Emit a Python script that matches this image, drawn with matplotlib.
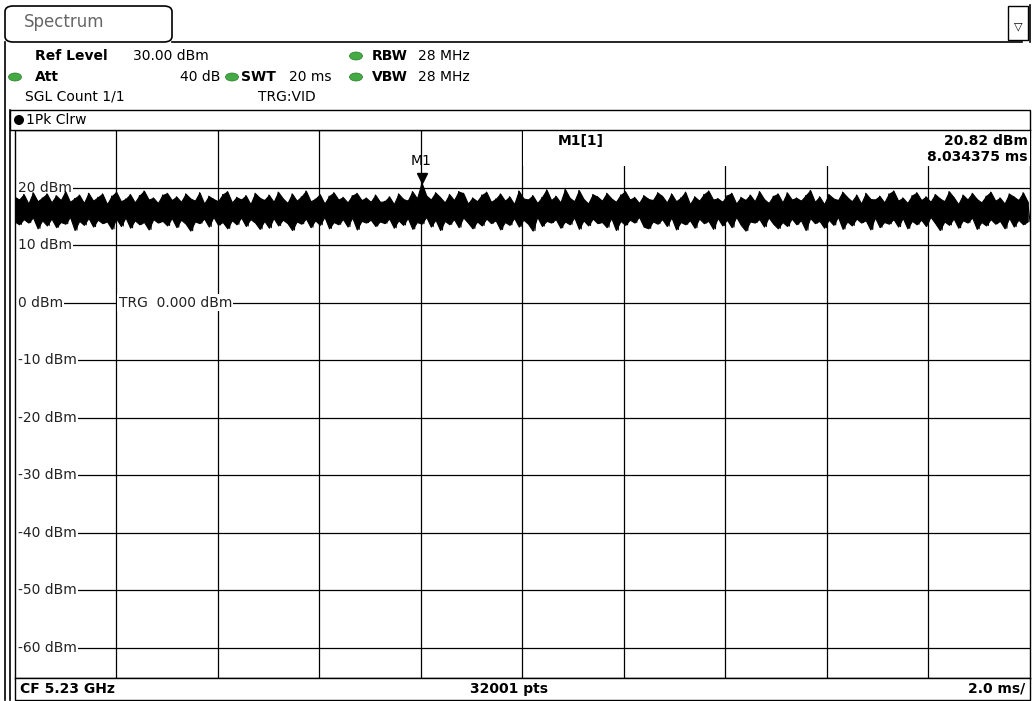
import matplotlib.pyplot as plt
from matplotlib.patches import Rectangle, FancyBboxPatch, Ellipse

W, H = 1032, 701

# sweep 0..20 ms, trace values (dBm), peaks and dips alternate
trace = [
    18.4, 14.1, 17.9, 13.6, 18.8, 14.5, 17.2, 13.9, 19.1, 14.8, 17.6, 12.9, 18.2, 14.3, 18.9, 13.4, 17.4, 14.6, 18.6, 13.1,
    17.8, 14.0, 19.3, 13.7, 17.5, 14.9, 18.1, 12.6, 18.7, 14.2, 17.3, 13.5, 19.0, 14.7, 17.7, 13.2, 18.3, 14.4, 18.9, 13.8,
    17.1, 14.1, 18.5, 12.8, 19.2, 14.6, 17.6, 13.3, 18.0, 14.8, 18.8, 13.0, 17.4, 14.3, 18.6, 13.6, 19.4, 14.0, 17.9, 12.7,
    18.2, 14.5, 17.3, 13.9, 18.7, 14.2, 19.0, 13.4, 17.8, 14.7, 18.4, 13.1, 17.5, 14.4, 18.9, 13.7, 18.1, 12.5, 17.7, 14.1,
    19.1, 13.8, 17.2, 14.6, 18.5, 13.2, 18.0, 14.9, 17.6, 13.5, 18.8, 14.0, 19.3, 12.9, 17.4, 14.3, 18.3, 13.6, 17.9, 14.8,
    18.6, 13.3, 17.1, 14.5, 19.0, 13.9, 18.2, 12.8, 17.8, 14.2, 18.7, 13.0, 17.5, 14.7, 19.2, 13.4, 18.1, 14.4, 17.3, 13.8,
    18.9, 12.6, 17.7, 14.1, 18.4, 13.7, 19.4, 14.6, 17.6, 13.1, 18.0, 14.3, 18.8, 13.5, 17.2, 14.9, 18.5, 12.9, 19.1, 14.0,
    17.9, 13.6, 18.3, 14.5, 17.4, 13.2, 18.6, 14.8, 19.0, 12.7, 17.8, 14.2, 18.2, 13.9, 17.5, 14.4, 18.7, 13.3, 17.5, 14.1,
    17.6, 13.8, 18.4, 14.6, 17.1, 13.0, 18.9, 14.3, 18.0, 13.5, 17.7, 14.7, 19.3, 12.8, 18.1, 14.0, 20.82, 13.7, 18.6, 14.9,
    17.9, 13.2, 19.1, 14.4, 18.3, 12.6, 17.4, 14.2, 18.8, 13.6, 17.8, 14.5, 19.3, 13.1, 19.0, 14.8, 17.2, 13.9, 18.2, 12.9,
    17.6, 14.1, 18.7, 13.4, 19.2, 14.6, 17.5, 13.8, 18.0, 14.3, 18.9, 12.7, 17.7, 14.0, 18.4, 13.5, 17.1, 14.7, 19.4, 13.2,
    18.1, 14.4, 17.9, 13.7, 18.6, 12.5, 17.3, 14.9, 18.3, 13.3, 19.6, 14.2, 17.8, 13.9, 18.5, 14.5, 17.4, 13.0, 19.7, 14.1,
    18.2, 13.6, 17.6, 14.8, 19.5, 12.8, 18.0, 14.3, 17.2, 13.4, 18.8, 14.6, 18.4, 13.8, 17.7, 14.0, 19.0, 13.1, 18.1, 14.7,
    17.5, 12.6, 18.7, 14.2, 19.3, 13.5, 17.9, 14.4, 18.3, 13.9, 17.3, 14.9, 18.6, 13.2, 18.0, 12.9, 17.8, 14.1, 19.1, 13.7,
    18.5, 14.5, 17.4, 13.3, 18.9, 14.8, 17.6, 12.7, 18.2, 14.0, 19.2, 13.6, 17.1, 14.3, 18.4, 13.0, 17.7, 14.6, 18.8, 13.8,
    19.4, 14.2, 17.9, 12.8, 18.1, 14.7, 17.5, 13.4, 18.6, 14.4, 19.0, 13.1, 17.2, 14.9, 18.3, 13.5, 17.8, 12.5, 18.7, 14.1,
    17.6, 13.9, 19.3, 14.5, 18.0, 13.2, 17.3, 14.8, 18.5, 13.7, 18.9, 12.9, 17.4, 14.0, 19.1, 13.3, 17.9, 14.6, 18.2, 13.6,
    17.7, 14.3, 18.6, 12.6, 19.5, 14.7, 17.5, 13.8, 18.4, 14.2, 17.1, 13.0, 18.8, 14.4, 18.1, 13.5, 17.8, 14.9, 19.2, 12.8,
    18.3, 14.1, 17.6, 13.4, 18.7, 14.6, 17.2, 13.9, 19.0, 14.3, 18.0, 12.7, 17.9, 14.8, 18.5, 13.1, 17.4, 14.0, 18.9, 13.7,
    19.4, 14.5, 17.7, 13.2, 18.2, 14.7, 17.3, 12.9, 18.6, 14.2, 19.1, 13.6, 17.8, 14.4, 18.4, 13.3, 17.5, 14.9, 18.8, 13.8,
    18.1, 12.6, 17.6, 14.1, 19.3, 13.5, 18.3, 14.6, 17.1, 13.0, 18.7, 14.3, 17.9, 13.9, 19.0, 14.8, 18.0, 12.8, 17.4, 14.0,
    18.5, 13.4, 19.2, 14.5, 17.7, 13.7, 18.2, 14.2, 17.2, 12.9, 18.9, 14.7, 18.4, 13.2, 17.8, 14.4, 19.1, 13.6, 17.5, 14.1,
]
yticks = [20, 10, 0, -10, -20, -30, -40, -50, -60]
marker_x, marker_y = 8.034375, 20.82

n = len(trace)
t = [20.0 * i / (n - 1) for i in range(n)]
# peak / pit envelopes of the trace (a peak-detector display draws everything between them)
t_hi, hi = t[0::2], trace[0::2]
lo = trace[1::2]

fig = plt.figure(figsize=(W / 100, H / 100), dpi=100)
plt.rcParams['font.family'] = ['DejaVu Sans']

def px(x, y):
    return x / W, 1 - y / H

ax = fig.add_axes([14.5 / W, 1 - 678 / H, (1030 - 14.5) / W, (678 - 130) / H])
ax.set_xlim(0, 20)
ax.set_ylim(-65.3, 30)
ax.set_xticks([])
ax.set_yticks([])
for s in ax.spines.values():
    s.set_linewidth(1)
for k in range(1, 10):
    ax.axvline(2 * k, color='black', lw=0.9, zorder=1)
for v in yticks:
    ax.axhline(v, color='black', lw=0.9, zorder=1)
    ax.text(0.06, v, '%d dBm' % v, fontsize=10, va='center', ha='left', color='#222222',
            bbox=dict(fc='white', ec='none', pad=1), zorder=2)
ax.text(2.05, 0, 'TRG  0.000 dBm', fontsize=10, va='center', ha='left', color='#222222',
        bbox=dict(fc='white', ec='none', pad=1), zorder=2)

ax.plot(t, trace, color='black', lw=0.8, zorder=3)
ax.fill_between(t_hi, lo, hi, color='black', lw=0.8, zorder=3)

# marker
ax.plot([marker_x], [marker_y + 0.9], marker='v', color='black', ms=7, zorder=4)
ax.text(marker_x - 0.03, marker_y + 2.6, 'M1', fontsize=10, ha='center', va='bottom', zorder=4)

# marker info area
ax.add_patch(Rectangle((10.02, 23.8), 9.98, 6.2, fc='white', ec='none', zorder=5))
ax.text(10.7, 29.3, 'M1[1]', fontsize=10, fontweight='bold', va='top', zorder=6)
ax.text(19.95, 29.3, '20.82 dBm', fontsize=10, fontweight='bold', va='top', ha='right', zorder=6)
ax.text(19.95, 26.6, '8.034375 ms', fontsize=10, fontweight='bold', va='top', ha='right', zorder=6)

# header
tab = FancyBboxPatch(px(5, 42), 167 / W, 36 / H, boxstyle='round,pad=0,rounding_size=0.008',
                     transform=fig.transFigure, fc='white', ec='black', lw=1.2)
fig.patches.append(tab)
fig.add_artist(plt.Line2D([172 / W, 1022 / W], [1 - 42 / H] * 2, color='black', lw=1.2))
fig.add_artist(plt.Line2D([5 / W] * 2, [1 - 42 / H, 1 - 700 / H], color='black', lw=1.2))
fig.add_artist(plt.Line2D([1030 / W] * 2, [1 - 5 / H, 1 - 42 / H], color='black', lw=1.2))
fig.add_artist(Rectangle(px(1008, 40), 20 / W, 34 / H, transform=fig.transFigure,
                         fc='white', ec='black', lw=1))
fig.text(*px(1018, 26), '\u25bd', fontsize=8, ha='center', va='center')
fig.text(*px(24, 22), 'Spectrum', fontsize=12, color='#666666', va='center')

def green(x, y):
    fig.add_artist(Ellipse(px(x, y), 13 / W, 8 / H, transform=fig.transFigure,
                           fc='#44aa44', ec='#2a7a2a', lw=0.5))

fig.text(*px(35, 56), 'Ref Level', fontsize=10, fontweight='bold', va='center')
fig.text(*px(133, 56), '30.00 dBm', fontsize=10, va='center')
green(356, 56)
fig.text(*px(372, 56), 'RBW', fontsize=10, fontweight='bold', va='center')
fig.text(*px(418, 56), '28 MHz', fontsize=10, va='center')
green(15, 77)
fig.text(*px(35, 77), 'Att', fontsize=10, fontweight='bold', va='center')
fig.text(*px(220, 77), '40 dB', fontsize=10, va='center', ha='right')
green(232, 77)
fig.text(*px(241, 77), 'SWT', fontsize=10, fontweight='bold', va='center')
fig.text(*px(289, 77), '20 ms', fontsize=10, va='center')
green(356, 77)
fig.text(*px(372, 77), 'VBW', fontsize=10, fontweight='bold', va='center')
fig.text(*px(418, 77), '28 MHz', fontsize=10, va='center')
fig.text(*px(25, 97), 'SGL Count 1/1', fontsize=10, va='center')
fig.text(*px(258, 97), 'TRG:VID', fontsize=10, va='center')

# trace box
fig.add_artist(Rectangle(px(10, 130), (1030 - 10) / W, 20 / H, transform=fig.transFigure,
                         fc='white', ec='black', lw=1))
fig.add_artist(plt.Line2D([10 / W] * 2, [1 - 110 / H, 1 - 700 / H], color='black', lw=1.2))
fig.add_artist(Ellipse(px(19, 120), 10 / W, 10 / H, transform=fig.transFigure, fc='black'))
fig.text(*px(26, 120), '1Pk Clrw', fontsize=10, va='center')

# bottom bar
fig.add_artist(Rectangle(px(14.5, 700), (1030 - 14.5) / W, 22 / H, transform=fig.transFigure,
                         fc='white', ec='black', lw=1))
fig.text(*px(20, 689), 'CF 5.23 GHz', fontsize=10, fontweight='bold', va='center')
fig.text(*px(470, 689), '32001 pts', fontsize=10, fontweight='bold', va='center')
fig.text(*px(1025, 689), '2.0 ms/', fontsize=10, fontweight='bold', va='center', ha='right')

fig.savefig('out.png', dpi=100)
